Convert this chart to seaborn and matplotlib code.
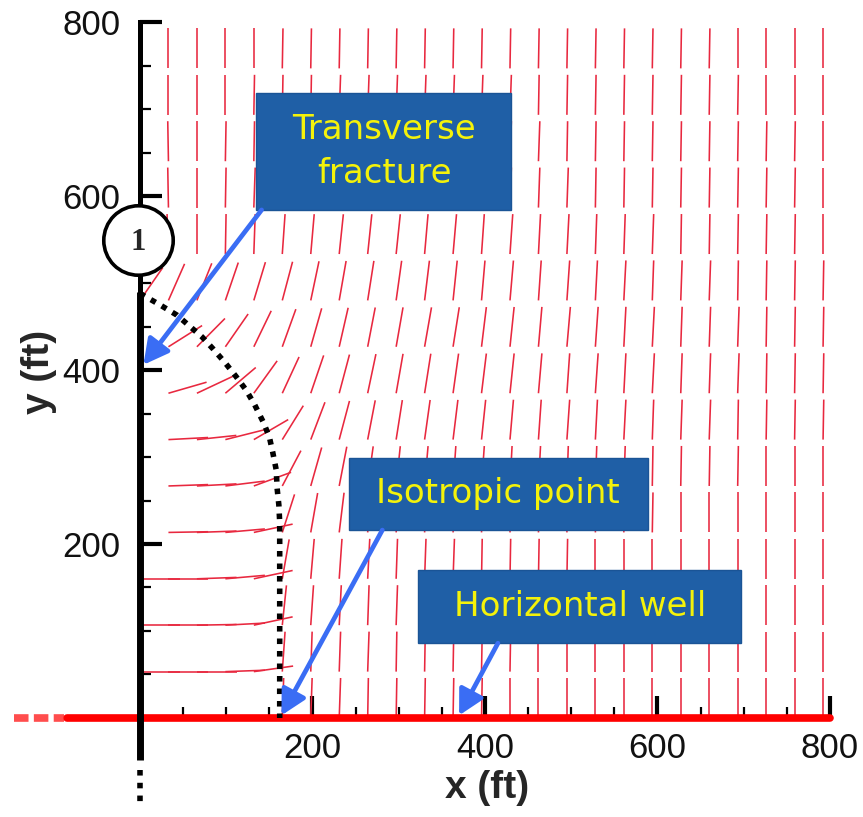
import numpy as np
import matplotlib
matplotlib.use("Agg")
import matplotlib.pyplot as plt
from matplotlib.collections import LineCollection
from matplotlib.patches import Rectangle, FancyArrowPatch
from matplotlib.ticker import FixedLocator
import seaborn as sns

# ---- data -----------------------------------------------------------------
# grid of stress-trajectory sample points (ft)
grid_x = [0, 33, 66, 99, 132, 165, 198, 231, 264, 297, 330, 363, 396,
          429, 462, 495, 528, 561, 594, 627, 660, 693, 726, 759, 792]
grid_y = [0, 53.3, 106.7, 160, 213.3, 266.7, 320, 373.3, 426.7, 480,
          533.3, 586.7, 640, 693.3, 746.7]

# orientation of the maximum horizontal stress (deg from +x), rows bottom -> top
stress_angle = [
    [0, 0, 0, 0, 0, 88, 88, 88, 89, 89, 89, 89, 89, 90, 90, 90, 90, 90, 90, 90, 90, 90, 90, 90, 90],
    [0, 0, 0, 2, 8, 86, 88, 88, 88, 89, 89, 89, 89, 89, 90, 90, 90, 90, 90, 90, 90, 90, 90, 90, 90],
    [0, 0, 1, 3, 12, 84, 86, 87, 88, 88, 89, 89, 89, 89, 89, 90, 90, 90, 90, 90, 90, 90, 90, 90, 90],
    [0, 0, 2, 5, 12, 80, 85, 86, 87, 88, 88, 88, 89, 89, 89, 89, 90, 90, 90, 90, 90, 90, 90, 90, 90],
    [90, 1, 2, 5, 12, 72, 80, 83, 85, 86, 87, 87, 88, 88, 88, 89, 89, 89, 89, 90, 90, 90, 90, 90, 90],
    [90, 2, 3, 7, 20, 62, 74, 79, 82, 84, 85, 86, 86, 87, 87, 88, 88, 88, 89, 89, 89, 89, 90, 90, 90],
    [90, 3, 6, 14, 30, 58, 69, 75, 79, 81, 82, 83, 84, 85, 86, 86, 87, 87, 88, 88, 88, 89, 89, 89, 89],
    [90, 16, 25, 40, 54, 65, 71, 75, 78, 80, 81, 82, 83, 84, 85, 86, 86, 87, 87, 88, 88, 88, 89, 89, 89],
    [90, 32, 45, 55, 64, 70, 74, 77, 79, 80, 80, 81, 83, 84, 85, 85, 86, 87, 87, 88, 88, 88, 89, 89, 89],
    [55, 66, 68, 71, 73, 75, 78, 80, 81, 82, 83, 84, 85, 85, 86, 86, 87, 87, 88, 88, 88, 89, 89, 89, 89],
    [90, 92, 90, 89, 88, 86, 85, 84, 84, 84, 85, 85, 86, 86, 87, 87, 88, 88, 88, 89, 89, 89, 89, 89, 90],
    [90, 91, 90, 89, 88, 87, 87, 87, 87, 87, 87, 88, 88, 88, 88, 88, 89, 89, 89, 89, 89, 89, 89, 89, 90],
    [90, 91, 90, 89, 89, 88, 88, 88, 88, 88, 88, 88, 88, 88, 88, 89, 89, 89, 89, 89, 89, 89, 89, 89, 90],
    [90, 90, 90, 90, 89, 89, 89, 88, 88, 88, 88, 88, 88, 88, 89, 89, 89, 89, 89, 89, 89, 89, 90, 90, 90],
    [90, 90, 90, 90, 90, 89, 89, 89, 89, 89, 89, 89, 89, 89, 89, 89, 89, 89, 89, 89, 89, 90, 90, 90, 90],
]
segment_length = 46.0  # ft

# isotropic-point boundary (ft)
iso_x = [0, 23, 43, 58, 72, 85, 99, 111, 123, 133, 143, 150, 154, 158, 159,
         161, 162, 162, 162, 162, 162]
iso_y = [488, 475, 463, 450, 438, 424, 408, 393, 377, 360, 340, 323, 305, 285,
         264, 245, 225, 205, 150, 75, 0]

# transverse fracture and horizontal well extents (ft)
fracture_y = [-48, 490]
fracture_tail_y = [-60, -102]
well_x = [-85, 800]
well_tail_x = [-146, -88]

x_ticks = [200, 400, 600, 800]
y_ticks = [200, 400, 600, 800]
minor_ticks = [50, 100, 150, 250, 300, 350, 450, 500, 550, 650, 700, 750]

# ---- figure ---------------------------------------------------------------
sns.set_style("white")
plt.rcParams["font.family"] = ["Liberation Sans", "DejaVu Sans"]

fig = plt.figure(figsize=(8.63, 8.17), dpi=100)
ax = fig.add_axes([0, 0, 1, 1])
ax.set_xlim(-162.3, 838.3)
ax.set_ylim(-113.8, 825.3)
ax.patch.set_alpha(0)

# stress trajectory segments
gx, gy = np.meshgrid(np.asarray(grid_x, float), np.asarray(grid_y, float))
th = np.deg2rad(np.asarray(stress_angle, float))
x1 = gx + segment_length * np.cos(th)
y1 = gy + segment_length * np.sin(th)
segs = np.stack([np.stack([gx, gy], -1), np.stack([x1, y1], -1)], axis=-2).reshape(-1, 2, 2)
ax.add_collection(LineCollection(segs, colors="#e8283f", linewidths=1.15, zorder=2))

# horizontal well
sns.lineplot(x=well_x, y=[0, 0], ax=ax, color="#ff0000", linewidth=5.5,
             sort=False, estimator=None, zorder=4)
ax.plot(well_tail_x, [0, 0], color="#ff2020", linewidth=5.5, alpha=0.8,
        dashes=(1.9, 0.7), solid_capstyle="butt", zorder=4)

# transverse fracture
ax.plot([0, 0], fracture_y, color="black", linewidth=5.0, solid_capstyle="butt", zorder=5)
ax.plot([0, 0], fracture_tail_y, color="black", linewidth=4.0,
        dashes=(1, 1.3), zorder=5)

# isotropic boundary
sns.lineplot(x=iso_x, y=iso_y, ax=ax, color="black", linewidth=4.0, sort=False,
             estimator=None, zorder=5)
ax.lines[-1].set_dashes((1, 1.25))

# axes: y spine at x = 0, x ticks along the well
for side in ("top", "right"):
    ax.spines[side].set_visible(False)
ax.spines["left"].set_position(("data", 0))
ax.spines["left"].set_bounds(0, 800)
ax.spines["left"].set_linewidth(3.6)
ax.spines["left"].set_color("black")
ax.spines["left"].set_zorder(3)
ax.spines["bottom"].set_position(("data", 0))
ax.spines["bottom"].set_visible(False)

ax.xaxis.set_major_locator(FixedLocator(x_ticks))
ax.yaxis.set_major_locator(FixedLocator(y_ticks))
ax.xaxis.set_minor_locator(FixedLocator(minor_ticks))
ax.yaxis.set_minor_locator(FixedLocator(minor_ticks))
ax.tick_params(which="both", left=True, bottom=True, top=False, right=False)
ax.tick_params(which="major", direction="in", length=16, width=3.0, color="black",
               labelsize=25, labelcolor="#111111")
ax.tick_params(which="minor", direction="in", length=8, width=1.6, color="black")
ax.tick_params(axis="x", which="major", pad=10)
ax.tick_params(axis="y", which="major", pad=14)

ax.set_xlabel("x (ft)", fontsize=28, fontweight="bold")
ax.set_ylabel("y (ft)", fontsize=28, fontweight="bold")
ax.xaxis.set_label_coords(0.564, 0.058)
ax.yaxis.set_label_coords(0.066, 0.545)

# numbered fracture marker
ax.plot([-2.3], [549], marker="o", markersize=50, markerfacecolor="white",
        markeredgecolor="black", markeredgewidth=2.6, zorder=7)
ax.text(-2.3, 547, "1", ha="center", va="center", fontsize=22, fontweight="bold",
        family=["Liberation Serif", "DejaVu Serif"], zorder=8)

# callouts
box_color = "#1f5fa6"
arrow_color = "#3a6df4"
callouts = [
    ((134.5, 584), (295.5, 134), "Transverse\nfracture", (283, 651), (141, 584), (4, 406)),
    ((242, 216), (347, 83), "Isotropic point", (415, 258), (281, 216), (164, 3)),
    ((322, 86), (375, 84), "Horizontal well", (510, 128), (415, 86), (370, 3)),
]
for (bx, by), (bw, bh), label, (tx, ty), start, end in callouts:
    ax.add_patch(Rectangle((bx, by), bw, bh, facecolor=box_color,
                           edgecolor="#1a5496", linewidth=1.0, zorder=6))
    ax.text(tx, ty, label, ha="center", va="center", color="#f4f20a",
            fontsize=24.5, family=["DejaVu Sans"], linespacing=1.4, zorder=7)
    ax.add_patch(FancyArrowPatch(start, end, arrowstyle="-|>,head_length=15,head_width=8",
                                 color=arrow_color, linewidth=3.4, shrinkA=0, shrinkB=0,
                                 mutation_scale=1, zorder=7))

fig.savefig("out.png", dpi=100)
